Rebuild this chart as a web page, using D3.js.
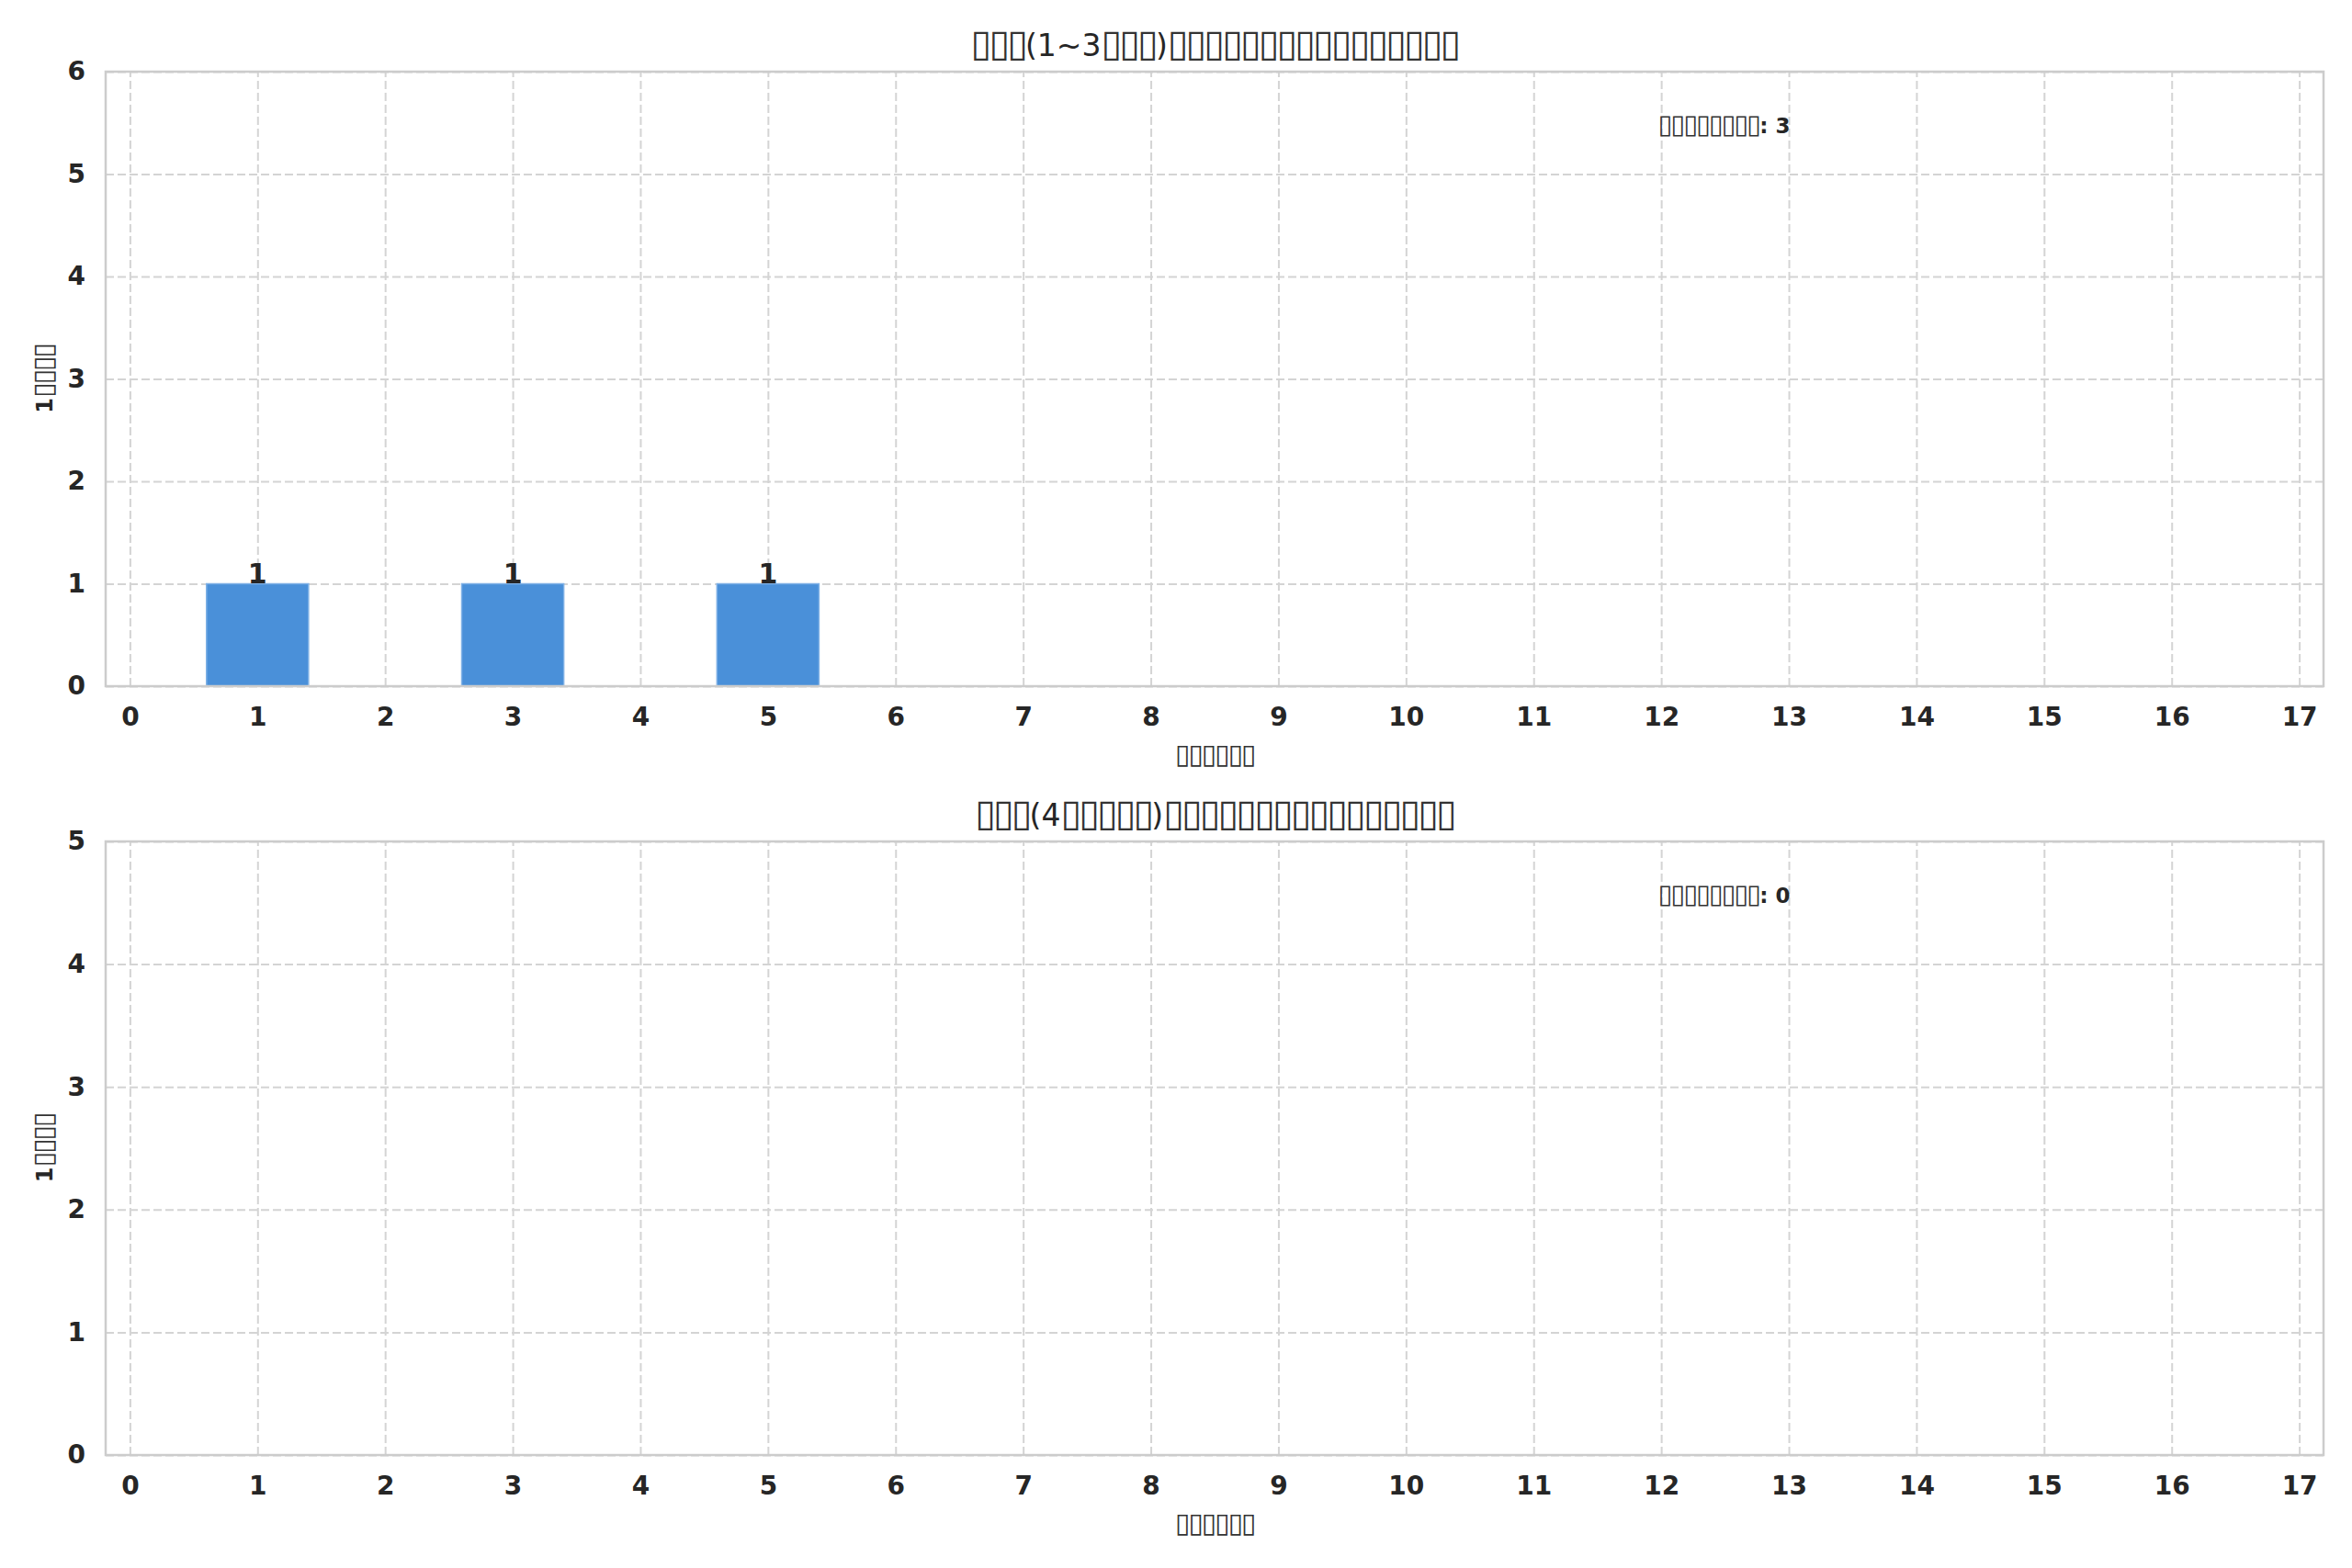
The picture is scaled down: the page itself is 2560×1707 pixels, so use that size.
<!DOCTYPE html>
<html>
<head>
<meta charset="utf-8">
<script src="https://cdn.jsdelivr.net/npm/d3@7"></script>
<style>
  body { margin: 0; background: #fff; }
</style>
</head>
<body>
<div id="vis"></div>
<script>
const FRAME_WIDTH = 2560;
const FRAME_HEIGHT = 1707;
const MARGINS = {left: 115, right: 31};
const PANELS = [{top: 78, bottom: 747}, {top: 916, bottom: 1584}];

// chart data (the CJK text shows as empty boxes there)
const X_TICKS = [0, 1, 2, 3, 4, 5, 6, 7, 8, 9, 10, 11, 12, 13, 14, 15, 16, 17];
const TITLES = ['▯▯▯(1~3▯▯▯)▯▯▯▯▯▯▯▯▯▯▯▯▯▯▯▯', '▯▯▯(4▯▯▯▯▯)▯▯▯▯▯▯▯▯▯▯▯▯▯▯▯▯'];
const X_LABEL = '▯▯▯▯▯▯';
const Y_LABEL = '1▯▯▯▯';
const NOTE_LABEL = '▯▯▯▯▯▯▯▯';

const DAYS_TOP = [1, 3, 5];
const COUNTS_TOP = [1, 1, 1];
const DAYS_BOTTOM = [];
const COUNTS_BOTTOM = [];
const TOTALS = [3, 0];
const Y_TICKS_TOP = [0, 1, 2, 3, 4, 5, 6];
const Y_TICKS_BOTTOM = [0, 1, 2, 3, 4, 5];

const TEXT_COLOR = '#262626';
const BAR_COLOR = '#4a90d9';
const GRID_COLOR = '#d4d4d4';
const FONT = '"DejaVu Sans", sans-serif';

const SVG = d3.select('#vis')
  .append('svg')
    .attr('width', FRAME_WIDTH)
    .attr('height', FRAME_HEIGHT)
    .style('background', '#fff');

// size the boxes like missing-glyph boxes: ~1em tall, 0.6em advance, thin outline
const CTX = document.createElement('canvas').getContext('2d');
function boxStyle(size) {
  CTX.font = 'normal 100px ' + FONT;
  const m = CTX.measureText('▯');
  const inkH = (m.actualBoundingBoxAscent + m.actualBoundingBoxDescent) || 60;
  const k = 0.97 * size / inkH;
  const desc = (m.actualBoundingBoxDescent || 0) * k;
  return {
    fontSize: 100 * k,
    shift: desc - 0.15 * size,
    spacing: 0.6 * size - m.width * k
  };
}

function fillText(sel, str, size) {
  const b = boxStyle(size);
  str.split(/(▯+)/).filter(s => s.length).forEach(part => {
    const t = sel.append('tspan').text(part);
    if (part[0] === '▯') {
      t.attr('font-size', b.fontSize)
       .attr('font-weight', 'normal')
       .attr('baseline-shift', b.shift)
       .attr('letter-spacing', b.spacing)
       .attr('fill', '#333');
    }
  });
  return sel;
}

const X_SCALE = d3.scaleLinear()
  .domain([-0.19, 17.19])
  .range([MARGINS.left, FRAME_WIDTH - MARGINS.right]);

function drawPanel(i, days, counts, yTicks) {
  const p = PANELS[i];
  const g = SVG.append('g');

  const Y_SCALE = d3.scaleLinear()
    .domain([0, d3.max(yTicks)])
    .range([p.bottom, p.top]);

  // grid
  g.append('g')
    .attr('transform', 'translate(0,' + p.bottom + ')')
    .call(d3.axisBottom(X_SCALE).tickValues(X_TICKS).tickSize(-(p.bottom - p.top)).tickFormat(''))
    .call(a => a.select('.domain').remove())
    .selectAll('line')
      .attr('stroke', GRID_COLOR).attr('stroke-width', 2).attr('stroke-dasharray', '9,4');

  g.append('g')
    .attr('transform', 'translate(' + MARGINS.left + ',0)')
    .call(d3.axisLeft(Y_SCALE).tickValues(yTicks).tickSize(-(X_SCALE.range()[1] - MARGINS.left)).tickFormat(''))
    .call(a => a.select('.domain').remove())
    .selectAll('line')
      .attr('stroke', GRID_COLOR).attr('stroke-width', 2).attr('stroke-dasharray', '9,4');

  // bars
  const rows = days.map((d, k) => ({day: d, count: counts[k]}));

  g.selectAll('.bar')
    .data(rows)
    .enter()
    .append('rect')
      .attr('class', 'bar')
      .attr('x', d => X_SCALE(d.day - 0.4))
      .attr('y', d => Y_SCALE(d.count))
      .attr('width', d => X_SCALE(d.day + 0.4) - X_SCALE(d.day - 0.4))
      .attr('height', d => Y_SCALE(0) - Y_SCALE(d.count))
      .attr('fill', BAR_COLOR)
      .attr('stroke', '#7fb1e6')
      .attr('stroke-width', 1.5);

  g.selectAll('.barlabel')
    .data(rows)
    .enter()
    .append('text')
      .attr('class', 'barlabel')
      .attr('x', d => X_SCALE(d.day))
      .attr('y', d => Y_SCALE(d.count) - 1)
      .attr('text-anchor', 'middle')
      .attr('font-family', FONT)
      .attr('font-size', 30)
      .attr('font-weight', 'bold')
      .attr('fill', TEXT_COLOR)
      .text(d => d.count);

  // spines
  g.append('rect')
    .attr('x', MARGINS.left)
    .attr('y', p.top)
    .attr('width', X_SCALE.range()[1] - MARGINS.left)
    .attr('height', p.bottom - p.top)
    .attr('fill', 'none')
    .attr('stroke', '#cccccc')
    .attr('stroke-width', 2.5);

  // tick labels
  const xAxis = g.append('g')
    .attr('transform', 'translate(0,' + p.bottom + ')')
    .call(d3.axisBottom(X_SCALE).tickValues(X_TICKS).tickFormat(d3.format('d')).tickSize(0).tickPadding(23));
  const yAxis = g.append('g')
    .attr('transform', 'translate(' + MARGINS.left + ',0)')
    .call(d3.axisLeft(Y_SCALE).tickValues(yTicks).tickFormat(d3.format('d')).tickSize(0).tickPadding(22));
  [xAxis, yAxis].forEach(a => {
    a.select('.domain').remove();
    a.attr('font-family', FONT).attr('font-size', 28).attr('font-weight', 'bold');
    a.selectAll('text').attr('fill', TEXT_COLOR);
  });

  const midX = (MARGINS.left + X_SCALE.range()[1]) / 2;

  fillText(g.append('text')
    .attr('x', midX)
    .attr('y', p.top - 17)
    .attr('text-anchor', 'middle')
    .attr('font-family', FONT)
    .attr('font-size', 33)
    .attr('fill', TEXT_COLOR), TITLES[i], 33);

  fillText(g.append('text')
    .attr('x', midX)
    .attr('y', p.bottom + 84)
    .attr('text-anchor', 'middle')
    .attr('font-family', FONT)
    .attr('font-size', 24)
    .attr('font-weight', 'bold')
    .attr('fill', TEXT_COLOR), X_LABEL, 24);

  fillText(g.append('text')
    .attr('transform', 'translate(57,' + (p.top + p.bottom) / 2 + ') rotate(-90)')
    .attr('text-anchor', 'middle')
    .attr('font-family', FONT)
    .attr('font-size', 24)
    .attr('font-weight', 'bold')
    .attr('fill', TEXT_COLOR), Y_LABEL, 24);

  fillText(g.append('text')
    .attr('x', MARGINS.left + 0.7 * (X_SCALE.range()[1] - MARGINS.left))
    .attr('y', p.top + 67)
    .attr('font-family', FONT)
    .attr('font-size', 23)
    .attr('font-weight', 'bold')
    .attr('fill', TEXT_COLOR), NOTE_LABEL + ': ' + TOTALS[i], 23);
}

drawPanel(0, DAYS_TOP, COUNTS_TOP, Y_TICKS_TOP);
drawPanel(1, DAYS_BOTTOM, COUNTS_BOTTOM, Y_TICKS_BOTTOM);
</script>
</body>
</html>
